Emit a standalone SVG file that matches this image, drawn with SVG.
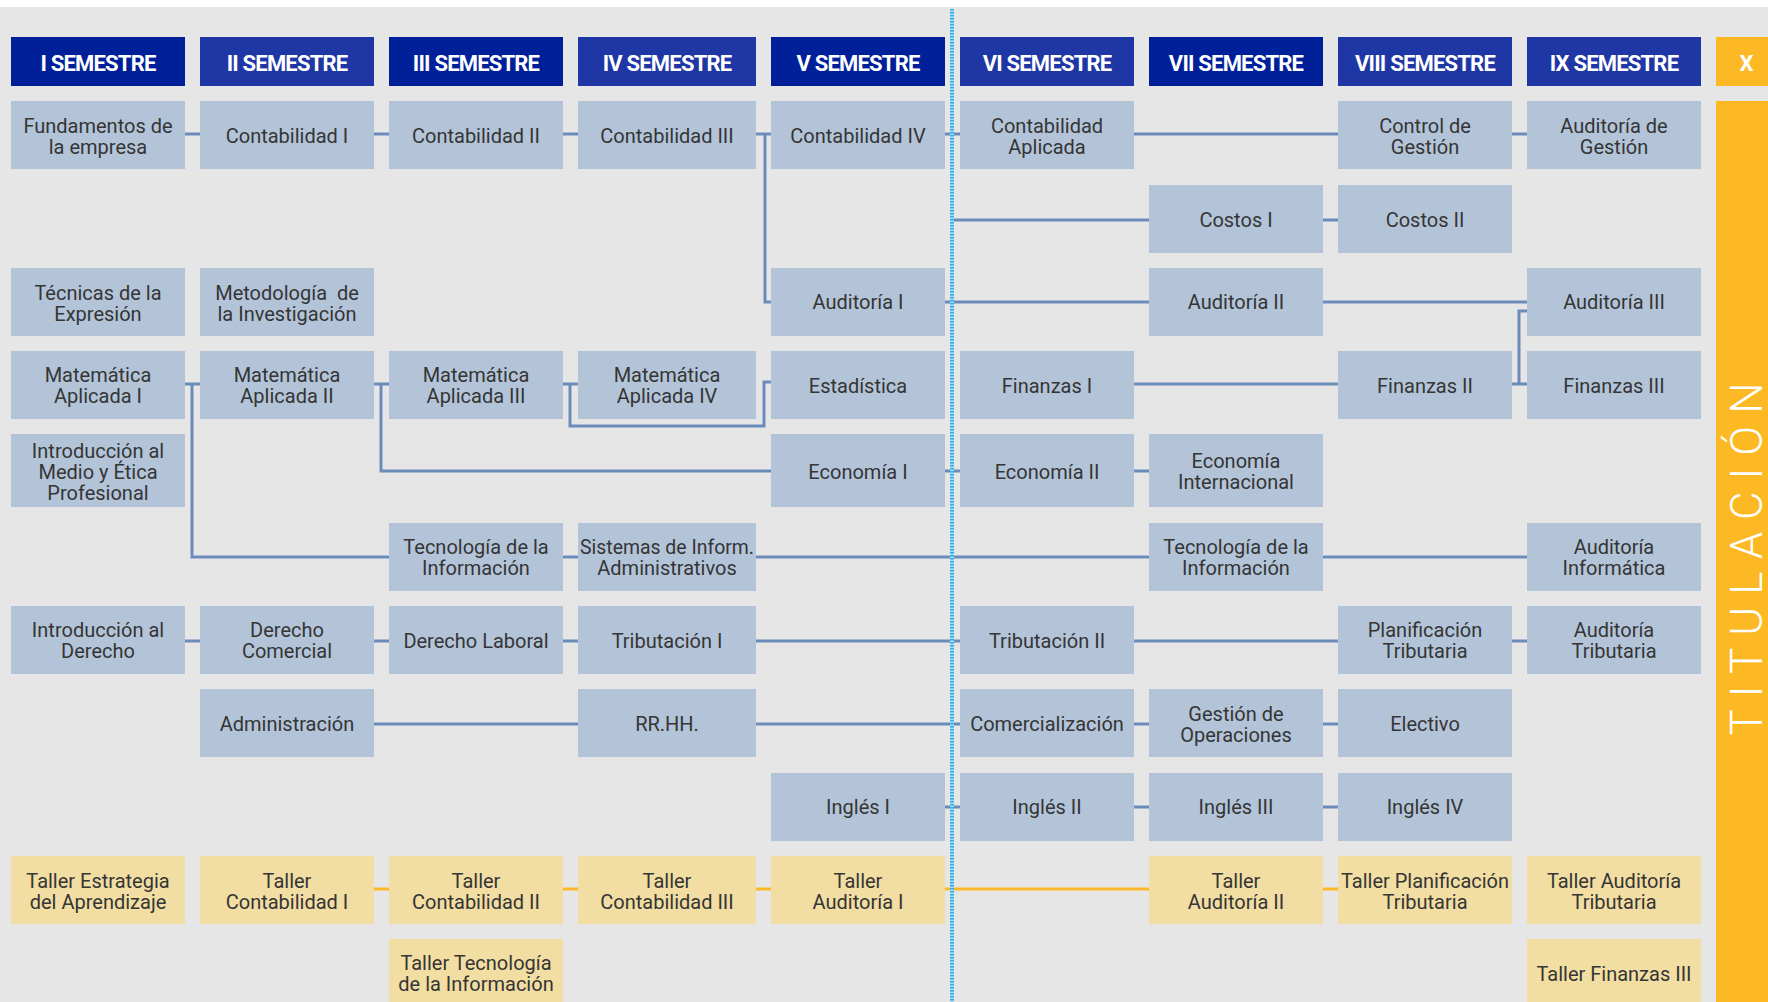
<svg xmlns="http://www.w3.org/2000/svg" width="1768" height="1002" viewBox="0 0 1768 1002">
<style>
.bg{fill:#e6e6e6}
.b{fill:#b3c4d9}
.w{fill:#f2dda2}
.hd{fill:#00209a}
.hl{fill:#1f36a5}
.l{font-family:Roboto,"Liberation Sans",sans-serif;font-size:20px;font-weight:400;fill:#353535;text-anchor:middle}
.h{font-family:Roboto,"Liberation Sans",sans-serif;font-size:22px;font-weight:700;fill:#ffffff;text-anchor:middle;letter-spacing:-0.8px}
.c{fill:none;stroke:#6b8bbb;stroke-width:3}
.o{fill:none;stroke:#fbb829;stroke-width:3}
</style>
<rect x="0" y="0" width="1768" height="1002" fill="#ffffff"/>
<rect class="bg" x="0" y="7" width="1768" height="995"/>

<g id="connectors">
<path class="c" d="M185,134H200M374,134H389M563,134H578"/>
<path class="c" d="M756,134H771M765,134V302H771"/>
<path class="c" d="M945,134H960M952,134V220H1149"/>
<path class="c" d="M1134,134H1338M1512,134H1527"/>
<path class="c" d="M1323,220H1338"/>
<path class="c" d="M945,302H1149M1323,302H1527"/>
<path class="c" d="M1512,384H1527M1519,384V311H1527"/>
<path class="c" d="M185,384H200M192,384V557H389"/>
<path class="c" d="M374,384H389M381,384V471H771"/>
<path class="c" d="M563,384H578M570,384V426H764V382H771"/>
<path class="c" d="M1134,384H1338"/>
<path class="c" d="M945,471H960M1134,471H1149"/>
<path class="c" d="M563,557H578M756,557H1149M1323,557H1527"/>
<path class="c" d="M185,641H200M374,641H389M563,641H578M756,641H960M1134,641H1338M1512,641H1527"/>
<path class="c" d="M374,724H578M756,724H960M1134,724H1149M1323,724H1338"/>
<path class="c" d="M945,807H960M1134,807H1149M1323,807H1338"/>
<path class="o" d="M374,889H389M563,889H578M756,889H771M945,889H1149M1323,889H1338"/>
</g>

<g id="divider">
<rect x="950" y="9" width="4" height="993" fill="#a6dcf5"/>
<line x1="952" y1="9" x2="952" y2="1002" stroke="#35ade3" stroke-width="4" stroke-dasharray="1.5 1.5"/>
</g>

<g id="h1"><rect class="hd" x="11" y="37" width="174" height="49"/><text class="h" x="98" y="70.5">I SEMESTRE</text></g>
<g id="h2"><rect class="hl" x="200" y="37" width="174" height="49"/><text class="h" x="287" y="70.5">II SEMESTRE</text></g>
<g id="h3"><rect class="hd" x="389" y="37" width="174" height="49"/><text class="h" x="476" y="70.5">III SEMESTRE</text></g>
<g id="h4"><rect class="hl" x="578" y="37" width="178" height="49"/><text class="h" x="667" y="70.5">IV SEMESTRE</text></g>
<g id="h5"><rect class="hd" x="771" y="37" width="174" height="49"/><text class="h" x="858" y="70.5">V SEMESTRE</text></g>
<g id="h6"><rect class="hl" x="960" y="37" width="174" height="49"/><text class="h" x="1047" y="70.5">VI SEMESTRE</text></g>
<g id="h7"><rect class="hd" x="1149" y="37" width="174" height="49"/><text class="h" x="1236" y="70.5">VII SEMESTRE</text></g>
<g id="h8"><rect class="hl" x="1338" y="37" width="174" height="49"/><text class="h" x="1425" y="70.5">VIII SEMESTRE</text></g>
<g id="h9"><rect class="hl" x="1527" y="37" width="174" height="49"/><text class="h" x="1614" y="70.5">IX SEMESTRE</text></g>
<g id="h10"><rect x="1716" y="37" width="52" height="49" fill="#fdb924"/><text class="h" x="1746" y="70.5">X</text></g>
<g id="titulacion"><rect x="1716" y="101" width="52" height="901" fill="#fdb924"/><text transform="translate(1762,553) rotate(-90)" x="0" y="0" font-family="Roboto, 'Liberation Sans', sans-serif" font-size="44" font-weight="300" letter-spacing="12" fill="#ffffff" text-anchor="middle">TITULACIÓN</text></g>

<!-- Column I -->
<g id="n-fundamentos"><rect class="b" x="11" y="101" width="174" height="68"/><text class="l"><tspan x="98" y="133">Fundamentos de</tspan><tspan x="98" y="154">la empresa</tspan></text></g>
<g id="n-tecnicas"><rect class="b" x="11" y="268" width="174" height="68"/><text class="l"><tspan x="98" y="299.5">Técnicas de la</tspan><tspan x="98" y="320.5">Expresión</tspan></text></g>
<g id="n-mat1"><rect class="b" x="11" y="351" width="174" height="68"/><text class="l"><tspan x="98" y="382">Matemática</tspan><tspan x="98" y="403">Aplicada I</tspan></text></g>
<g id="n-intromedio"><rect class="b" x="11" y="434" width="174" height="73"/><text class="l"><tspan x="98" y="458">Introducción al</tspan><tspan x="98" y="479">Medio y Ética</tspan><tspan x="98" y="500">Profesional</tspan></text></g>
<g id="n-introderecho"><rect class="b" x="11" y="606" width="174" height="68"/><text class="l"><tspan x="98" y="637">Introducción al</tspan><tspan x="98" y="658">Derecho</tspan></text></g>
<g id="n-tallerestrategia"><rect class="w" x="11" y="856" width="174" height="68"/><text class="l"><tspan x="98" y="888">Taller Estrategia</tspan><tspan x="98" y="909">del Aprendizaje</tspan></text></g>

<!-- Column II -->
<g id="n-cont1"><rect class="b" x="200" y="101" width="174" height="68"/><text class="l" x="287" y="142.5">Contabilidad I</text></g>
<g id="n-metodologia"><rect class="b" x="200" y="268" width="174" height="68"/><text class="l"><tspan x="287" y="299.5">Metodología&#160; de</tspan><tspan x="287" y="320.5">la Investigación</tspan></text></g>
<g id="n-mat2"><rect class="b" x="200" y="351" width="174" height="68"/><text class="l"><tspan x="287" y="382">Matemática</tspan><tspan x="287" y="403">Aplicada II</tspan></text></g>
<g id="n-dercomercial"><rect class="b" x="200" y="606" width="174" height="68"/><text class="l"><tspan x="287" y="637">Derecho</tspan><tspan x="287" y="658">Comercial</tspan></text></g>
<g id="n-administracion"><rect class="b" x="200" y="689" width="174" height="68"/><text class="l" x="287" y="731">Administración</text></g>
<g id="n-tallercont1"><rect class="w" x="200" y="856" width="174" height="68"/><text class="l"><tspan x="287" y="888">Taller</tspan><tspan x="287" y="909">Contabilidad I</tspan></text></g>

<!-- Column III -->
<g id="n-cont2"><rect class="b" x="389" y="101" width="174" height="68"/><text class="l" x="476" y="142.5">Contabilidad II</text></g>
<g id="n-mat3"><rect class="b" x="389" y="351" width="174" height="68"/><text class="l"><tspan x="476" y="382">Matemática</tspan><tspan x="476" y="403">Aplicada III</tspan></text></g>
<g id="n-tecinfo1"><rect class="b" x="389" y="523" width="174" height="68"/><text class="l"><tspan x="476" y="554">Tecnología de la</tspan><tspan x="476" y="575">Información</tspan></text></g>
<g id="n-derlaboral"><rect class="b" x="389" y="606" width="174" height="68"/><text class="l" x="476" y="648">Derecho Laboral</text></g>
<g id="n-tallercont2"><rect class="w" x="389" y="856" width="174" height="68"/><text class="l"><tspan x="476" y="888">Taller</tspan><tspan x="476" y="909">Contabilidad II</tspan></text></g>
<g id="n-tallertec"><rect class="w" x="389" y="939" width="174" height="68"/><text class="l"><tspan x="476" y="970">Taller Tecnología</tspan><tspan x="476" y="991">de la Información</tspan></text></g>

<!-- Column IV -->
<g id="n-cont3"><rect class="b" x="578" y="101" width="178" height="68"/><text class="l" x="667" y="142.5">Contabilidad III</text></g>
<g id="n-mat4"><rect class="b" x="578" y="351" width="178" height="68"/><text class="l"><tspan x="667" y="382">Matemática</tspan><tspan x="667" y="403">Aplicada IV</tspan></text></g>
<g id="n-sistemas"><rect class="b" x="578" y="523" width="178" height="68"/><text class="l"><tspan x="667" y="554" textLength="174" lengthAdjust="spacingAndGlyphs">Sistemas de Inform.</tspan><tspan x="667" y="575">Administrativos</tspan></text></g>
<g id="n-trib1"><rect class="b" x="578" y="606" width="178" height="68"/><text class="l" x="667" y="648">Tributación I</text></g>
<g id="n-rrhh"><rect class="b" x="578" y="689" width="178" height="68"/><text class="l" x="667" y="731">RR.HH.</text></g>
<g id="n-tallercont3"><rect class="w" x="578" y="856" width="178" height="68"/><text class="l"><tspan x="667" y="888">Taller</tspan><tspan x="667" y="909">Contabilidad III</tspan></text></g>

<!-- Column V -->
<g id="n-cont4"><rect class="b" x="771" y="101" width="174" height="68"/><text class="l" x="858" y="142.5">Contabilidad IV</text></g>
<g id="n-aud1"><rect class="b" x="771" y="268" width="174" height="68"/><text class="l" x="858" y="309">Auditoría I</text></g>
<g id="n-estadistica"><rect class="b" x="771" y="351" width="174" height="68"/><text class="l" x="858" y="392.5">Estadística</text></g>
<g id="n-eco1"><rect class="b" x="771" y="434" width="174" height="73"/><text class="l" x="858" y="478.5">Economía I</text></g>
<g id="n-ingles1"><rect class="b" x="771" y="773" width="174" height="68"/><text class="l" x="858" y="814">Inglés I</text></g>
<g id="n-talleraud1"><rect class="w" x="771" y="856" width="174" height="68"/><text class="l"><tspan x="858" y="888">Taller</tspan><tspan x="858" y="909">Auditoría I</tspan></text></g>

<!-- Column VI -->
<g id="n-contaplicada"><rect class="b" x="960" y="101" width="174" height="68"/><text class="l"><tspan x="1047" y="133">Contabilidad</tspan><tspan x="1047" y="154">Aplicada</tspan></text></g>
<g id="n-fin1"><rect class="b" x="960" y="351" width="174" height="68"/><text class="l" x="1047" y="392.5">Finanzas I</text></g>
<g id="n-eco2"><rect class="b" x="960" y="434" width="174" height="73"/><text class="l" x="1047" y="478.5">Economía II</text></g>
<g id="n-trib2"><rect class="b" x="960" y="606" width="174" height="68"/><text class="l" x="1047" y="648">Tributación II</text></g>
<g id="n-comercializacion"><rect class="b" x="960" y="689" width="174" height="68"/><text class="l" x="1047" y="731">Comercialización</text></g>
<g id="n-ingles2"><rect class="b" x="960" y="773" width="174" height="68"/><text class="l" x="1047" y="814">Inglés II</text></g>

<!-- Column VII -->
<g id="n-costos1"><rect class="b" x="1149" y="185" width="174" height="68"/><text class="l" x="1236" y="227">Costos I</text></g>
<g id="n-aud2"><rect class="b" x="1149" y="268" width="174" height="68"/><text class="l" x="1236" y="309">Auditoría II</text></g>
<g id="n-ecointl"><rect class="b" x="1149" y="434" width="174" height="73"/><text class="l"><tspan x="1236" y="468">Economía</tspan><tspan x="1236" y="489">Internacional</tspan></text></g>
<g id="n-tecinfo2"><rect class="b" x="1149" y="523" width="174" height="68"/><text class="l"><tspan x="1236" y="554">Tecnología de la</tspan><tspan x="1236" y="575">Información</tspan></text></g>
<g id="n-gestionop"><rect class="b" x="1149" y="689" width="174" height="68"/><text class="l"><tspan x="1236" y="721">Gestión de</tspan><tspan x="1236" y="742">Operaciones</tspan></text></g>
<g id="n-ingles3"><rect class="b" x="1149" y="773" width="174" height="68"/><text class="l" x="1236" y="814">Inglés III</text></g>
<g id="n-talleraud2"><rect class="w" x="1149" y="856" width="174" height="68"/><text class="l"><tspan x="1236" y="888">Taller</tspan><tspan x="1236" y="909">Auditoría II</tspan></text></g>

<!-- Column VIII -->
<g id="n-controlgestion"><rect class="b" x="1338" y="101" width="174" height="68"/><text class="l"><tspan x="1425" y="133">Control de</tspan><tspan x="1425" y="154">Gestión</tspan></text></g>
<g id="n-costos2"><rect class="b" x="1338" y="185" width="174" height="68"/><text class="l" x="1425" y="227">Costos II</text></g>
<g id="n-fin2"><rect class="b" x="1338" y="351" width="174" height="68"/><text class="l" x="1425" y="392.5">Finanzas II</text></g>
<g id="n-planif"><rect class="b" x="1338" y="606" width="174" height="68"/><text class="l"><tspan x="1425" y="637">Planificación</tspan><tspan x="1425" y="658">Tributaria</tspan></text></g>
<g id="n-electivo"><rect class="b" x="1338" y="689" width="174" height="68"/><text class="l" x="1425" y="731">Electivo</text></g>
<g id="n-ingles4"><rect class="b" x="1338" y="773" width="174" height="68"/><text class="l" x="1425" y="814">Inglés IV</text></g>
<g id="n-tallerplanif"><rect class="w" x="1338" y="856" width="174" height="68"/><text class="l"><tspan x="1425" y="888" textLength="168" lengthAdjust="spacingAndGlyphs">Taller Planificación</tspan><tspan x="1425" y="909">Tributaria</tspan></text></g>

<!-- Column IX -->
<g id="n-audgestion"><rect class="b" x="1527" y="101" width="174" height="68"/><text class="l"><tspan x="1614" y="133">Auditoría de</tspan><tspan x="1614" y="154">Gestión</tspan></text></g>
<g id="n-aud3"><rect class="b" x="1527" y="268" width="174" height="68"/><text class="l" x="1614" y="309">Auditoría III</text></g>
<g id="n-fin3"><rect class="b" x="1527" y="351" width="174" height="68"/><text class="l" x="1614" y="392.5">Finanzas III</text></g>
<g id="n-audinfo"><rect class="b" x="1527" y="523" width="174" height="68"/><text class="l"><tspan x="1614" y="554">Auditoría</tspan><tspan x="1614" y="575">Informática</tspan></text></g>
<g id="n-audtrib"><rect class="b" x="1527" y="606" width="174" height="68"/><text class="l"><tspan x="1614" y="637">Auditoría</tspan><tspan x="1614" y="658">Tributaria</tspan></text></g>
<g id="n-talleraudtrib"><rect class="w" x="1527" y="856" width="174" height="68"/><text class="l"><tspan x="1614" y="888">Taller Auditoría</tspan><tspan x="1614" y="909">Tributaria</tspan></text></g>
<g id="n-tallerfin3"><rect class="w" x="1527" y="939" width="174" height="68"/><text class="l" x="1614" y="981">Taller Finanzas III</text></g>
</svg>
